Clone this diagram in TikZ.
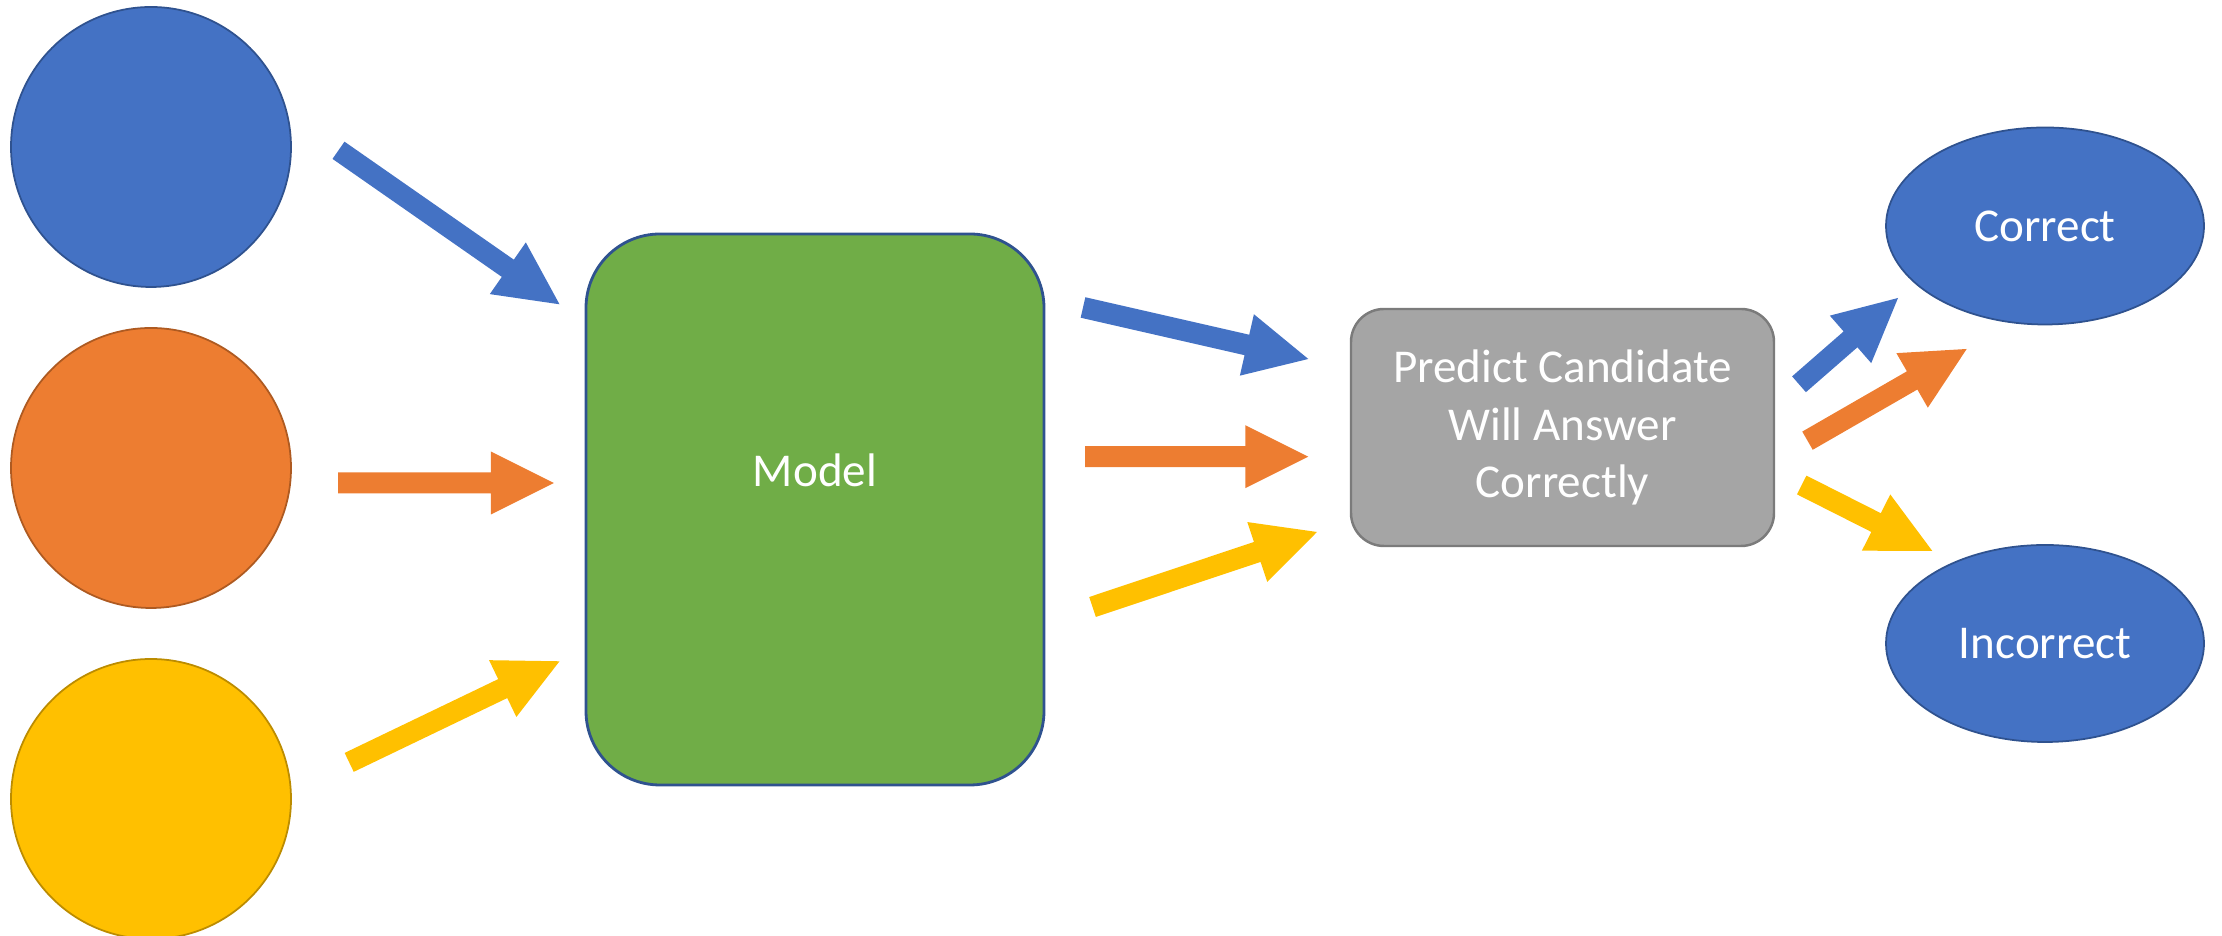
\documentclass[tikz,border=0pt]{standalone}
\usepackage{fontspec}
\setmainfont{Carlito}
\usepackage{xcolor}
\usetikzlibrary{positioning}
\usetikzlibrary{calc}
\usetikzlibrary{shapes.geometric}
\definecolor{officeblue}{HTML}{4472C4}
\definecolor{officeorange}{HTML}{ED7D31}
\definecolor{officegold}{HTML}{FFC000}
\definecolor{officegreen}{HTML}{70AD47}
\definecolor{officegray}{HTML}{A5A5A5}
\definecolor{blueline}{HTML}{2F528F}
\definecolor{orangeline}{HTML}{AE5A21}
\definecolor{goldline}{HTML}{BC8C00}
\definecolor{grayline}{HTML}{7B7B7B}
\newcommand\fatarrow[3]{
	\coordinate (head) at ($(#3)!0.63cm!(#2)$);
	\fill[#1] ($(#2)!0.105cm!90:(#3)$)
	    -- ($(head)!0.105cm!90:(#3)$)
	    -- ($(head)!0.315cm!90:(#3)$)
	    -- (#3)
	    -- ($(head)!0.315cm!-90:(#3)$)
	    -- ($(head)!0.105cm!-90:(#3)$)
	    -- ($(#2)!0.105cm!-90:(#3)$) -- cycle;
 }

\begin{document}
\begin{tikzpicture}[font=\fontsize{13.4}{16.3}\selectfont,
		ball/.style={circle, minimum size=2.8cm, inner sep=0pt, line width=0.5pt},
		outcome/.style={ellipse, draw=blueline, fill=officeblue, line width=0.5pt, minimum width=3.18cm, minimum height=1.97cm, inner sep=0pt, text=white}]
		\useasboundingbox (0,0) rectangle (22.22,9.36);
		\node[ball, fill=officeblue, draw=blueline] (blueball) at (1.51,7.89) {};
		\node[ball, fill=officeorange, draw=orangeline] (orangeball) at (1.51,4.68) {};
		\node[ball, fill=officegold, draw=goldline] (goldball) at (1.51,1.37) {};
		\node[draw=blueline, line width=0.8pt, fill=officegreen, rounded corners=0.74cm, minimum width=4.58cm, minimum height=5.51cm] (model) at (8.15,4.265) {};
		\node[text=white] (modeltext) at (8.15,4.66) {Model};
		\node[draw=grayline, line width=0.7pt, fill=officegray, rounded corners=0.33cm, minimum width=4.23cm, minimum height=2.37cm, align=center, text=white] (predict) at (15.625,5.085) {Predict Candidate\\Will Answer\\Correctly};
		\node[outcome] (correct) at (20.45,7.10) {Correct};
		\node[outcome] (incorrect) at (20.45,2.925) {Incorrect};

		\coordinate(A) at (3.385,7.857);
		\coordinate(B) at (5.595,6.317);
		\coordinate(C) at (3.38,4.53);
		\coordinate(D) at (5.538,4.53);
		\coordinate(E) at (3.492,1.736);
		\coordinate(F) at (5.595,2.747);
		\coordinate(G) at (10.83,6.285);
		\coordinate(H) at (13.083,5.77);
		\coordinate(I) at (10.85,4.793);
		\coordinate(J) at (13.083,4.793);
		\coordinate(K) at (10.925,3.29);
		\coordinate(L) at (13.17,4.04);
		\coordinate(M) at (17.99,5.517);
		\coordinate(N) at (18.98,6.38);
		\coordinate(O) at (18.075,4.953);
		\coordinate(P) at (19.667,5.87);
		\coordinate(Q) at (18.017,4.51);
		\coordinate(R) at (19.323,3.85);

		\fatarrow{officeblue}{A}{B}
		\fatarrow{officeorange}{C}{D}
		\fatarrow{officegold}{E}{F}
		\fatarrow{officeblue}{G}{H}
		\fatarrow{officeorange}{I}{J}
		\fatarrow{officegold}{K}{L}
		\fatarrow{officeblue}{M}{N}
		\fatarrow{officeorange}{O}{P}
		\fatarrow{officegold}{Q}{R}
	\end{tikzpicture}
\end{document}
